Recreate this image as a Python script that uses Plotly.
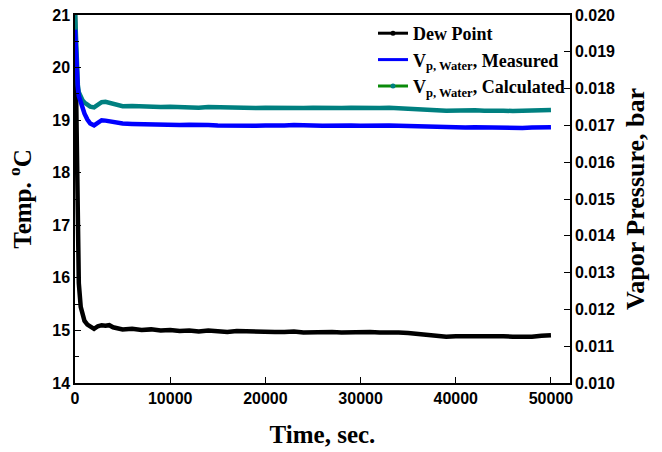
import plotly.graph_objects as go

# Sample times (s)
time_s = [0, 100, 200, 300, 400, 600, 800, 1000, 1300, 1600, 2000, 2400, 2800, 3200, 3600,
          4000, 4500, 5000, 6000, 7000, 8000, 9000, 10000, 11000, 12000, 13000, 14000,
          15000, 16000, 17000, 18000, 19000, 20000, 21000, 22000, 23000, 24000, 25000,
          26000, 27000, 28000, 29000, 30000, 31000, 32000, 33000, 34000, 35000, 36000,
          37000, 38000, 39000, 40000, 41000, 42000, 43000, 44000, 45000, 46000, 47000,
          48000, 49000, 50000]

# Dew point (deg C), left axis
dew_point = [21.0, 19.6, 17.5, 16.4, 15.9, 15.45, 15.28, 15.18, 15.11, 15.07, 15.03, 15.08,
             15.10, 15.09, 15.10, 15.06, 15.04, 15.02, 15.03, 15.01, 15.02, 15.00, 15.01,
             14.99, 15.00, 14.98, 15.00, 14.98, 14.97, 14.99, 14.98, 14.97, 14.98, 14.97,
             14.97, 14.98, 14.96, 14.97, 14.96, 14.97, 14.96, 14.97, 14.96, 14.97, 14.96,
             14.97, 14.96, 14.95, 14.93, 14.91, 14.89, 14.88, 14.89, 14.88, 14.89, 14.89,
             14.90, 14.89, 14.88, 14.87, 14.88, 14.90, 14.91]

# Water vapour pressure, measured (bar), right axis
vp_measured = [0.0196, 0.0189, 0.0184, 0.0180, 0.0178, 0.0176, 0.01745, 0.01732, 0.01716,
               0.01705, 0.01700, 0.01707, 0.01714, 0.01713, 0.01711, 0.01708, 0.01706,
               0.01705, 0.01704, 0.01703, 0.01704, 0.01702, 0.01703, 0.01701, 0.01702,
               0.01700, 0.01701, 0.01700, 0.01699, 0.01701, 0.01700, 0.01699, 0.01700,
               0.01699, 0.01700, 0.01701, 0.01699, 0.01700, 0.01699, 0.01700, 0.01699,
               0.01700, 0.01699, 0.01700, 0.01701, 0.01700, 0.01699, 0.01698, 0.01697,
               0.01696, 0.01695, 0.01694, 0.01695, 0.01694, 0.01695, 0.01694, 0.01695,
               0.01694, 0.01693, 0.01693, 0.01694, 0.01695, 0.01695]

# Water vapour pressure, calculated (bar), right axis
vp_calculated = [0.0201, 0.0192, 0.0185, 0.0181, 0.0179, 0.01775, 0.01768, 0.01762,
                 0.01756, 0.01751, 0.01749, 0.01756, 0.01763, 0.01764, 0.01761, 0.01758,
                 0.01755, 0.01752, 0.01753, 0.01751, 0.01752, 0.01750, 0.01751, 0.01749,
                 0.01750, 0.01748, 0.01750, 0.01749, 0.01748, 0.01749, 0.01748, 0.01747,
                 0.01748, 0.01747, 0.01748, 0.01748, 0.01747, 0.01748, 0.01747, 0.01748,
                 0.01747, 0.01748, 0.01747, 0.01748, 0.01747, 0.01748, 0.01746, 0.01745,
                 0.01744, 0.01742, 0.01741, 0.01740, 0.01741, 0.01740, 0.01741, 0.01740,
                 0.01741, 0.01740, 0.01739, 0.01739, 0.01740, 0.01741, 0.01742]

serif = "Liberation Serif"
sans = "Liberation Sans"
teal = "#008080"
green = "#0a8a0a"

fig = go.Figure()

fig.add_trace(go.Scatter(
    x=time_s, y=vp_calculated, yaxis="y2", mode="lines",
    line=dict(color=teal, width=4.5), showlegend=False))
fig.add_trace(go.Scatter(
    x=time_s, y=vp_measured, yaxis="y2", mode="lines",
    line=dict(color="#0000ff", width=4.5), showlegend=False))
fig.add_trace(go.Scatter(
    x=time_s, y=dew_point, mode="lines",
    line=dict(color="black", width=4.5), showlegend=False))

# Legend entries
fig.add_trace(go.Scatter(
    x=[None], y=[None], mode="lines+markers", name="Dew Point",
    line=dict(color="black", width=3), marker=dict(color="black", size=5)))
fig.add_trace(go.Scatter(
    x=[None], y=[None], mode="lines", name="V<sub>p, Water</sub>, Measured",
    line=dict(color="#0000ff", width=3)))
fig.add_trace(go.Scatter(
    x=[None], y=[None], mode="lines+markers", name="V<sub>p, Water</sub>, Calculated",
    line=dict(color=green, width=3), marker=dict(color=teal, size=5)))

fig.update_layout(
    width=662, height=452,
    margin=dict(l=75, r=92, t=15, b=69, autoexpand=False),
    plot_bgcolor="white", paper_bgcolor="white",
    showlegend=True,
    legend=dict(x=1.0, xanchor="right", y=1.0, yanchor="top",
                bgcolor="rgba(0,0,0,0)",
                font=dict(family=serif, size=18, color="black", weight="bold"),
                itemwidth=30, tracegroupgap=0),
    xaxis=dict(
        range=[0, 52000], tickvals=[0, 10000, 20000, 30000, 40000, 50000],
        ticktext=["0", "10000", "20000", "30000", "40000", "50000"],
        showline=True, linecolor="black", linewidth=1.5, mirror=True,
        ticks="inside", ticklen=6, tickcolor="black", showgrid=False, zeroline=False,
        automargin=False,
        tickfont=dict(family=sans, size=16, color="black", weight="bold"),
        title=dict(text="Time, sec.", standoff=20,
                   font=dict(family=serif, size=25, color="black", weight="bold"))),
    yaxis=dict(
        range=[14, 21], dtick=1,
        showline=True, linecolor="black", linewidth=1.5, mirror=True,
        ticks="inside", ticklen=6, tickcolor="black", showgrid=False, zeroline=False,
        automargin=False,
        minor=dict(ticks="inside", dtick=0.5, ticklen=4, tickcolor="black"),
        tickfont=dict(family=sans, size=16, color="black", weight="bold"),
        title=dict(text="Temp. <sup>o</sup>C", standoff=14,
                   font=dict(family=serif, size=25, color="black", weight="bold"))),
    yaxis2=dict(
        range=[0.010, 0.020], dtick=0.001, tickformat=".3f",
        overlaying="y", side="right",
        showline=True, linecolor="black", linewidth=1.5,
        ticks="inside", ticklen=6, tickcolor="black", showgrid=False, zeroline=False,
        automargin=False,
        tickfont=dict(family=sans, size=16, color="black", weight="bold"),
        title=dict(text="Vapor Pressure, bar", standoff=12,
                   font=dict(family=serif, size=26, color="black", weight="bold"))),
)

fig.write_html("out.html")
